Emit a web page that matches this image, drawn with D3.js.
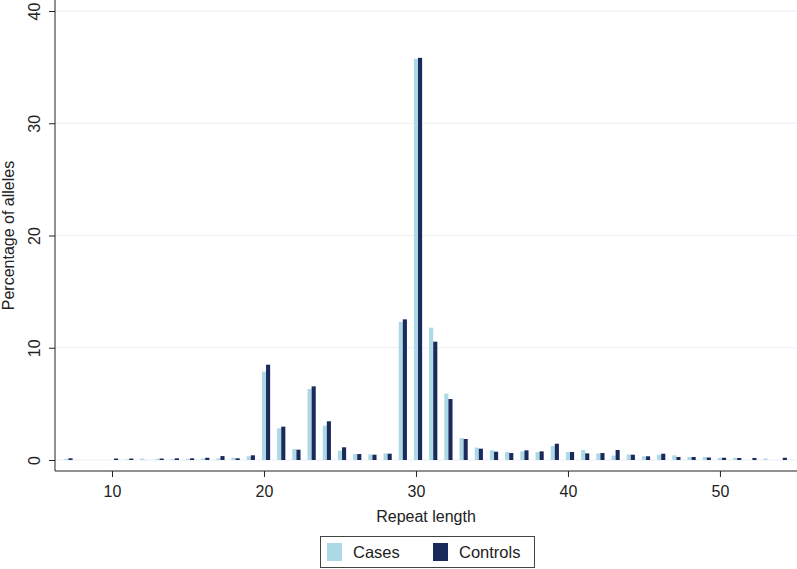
<!DOCTYPE html>
<html>
<head>
<meta charset="utf-8">
<script src="https://cdn.jsdelivr.net/npm/d3@7"></script>
<style>
  html, body { margin: 0; padding: 0; background: #fff; }
  svg { display: block; font-family: "Liberation Sans", Arial, Helvetica, sans-serif; }
</style>
</head>
<body>
<svg id="chart" width="797" height="569"></svg>
<script>
const repeatLengths = [7,8,9,10,11,12,13,14,15,16,17,18,19,20,21,22,23,24,25,26,27,28,29,30,31,32,33,34,35,36,37,38,39,40,41,42,43,44,45,46,47,48,49,50,51,52,53,54];
const casesPct = [0.1,0,0,0,0.05,0.13,0.1,0.08,0.1,0.13,0.15,0.2,0.33,7.87,2.82,0.98,6.33,3.06,0.83,0.53,0.5,0.59,12.3,35.74,11.79,5.91,1.96,1.1,0.87,0.71,0.77,0.71,1.25,0.71,0.89,0.59,0.39,0.5,0.33,0.47,0.42,0.27,0.27,0.2,0.2,0,0.13,0];
const controlsPct = [0.15,0,0,0.13,0.13,0,0.13,0.15,0.15,0.2,0.35,0.15,0.42,8.49,2.97,0.92,6.56,3.45,1.13,0.53,0.47,0.56,12.53,35.83,10.54,5.43,1.87,1.01,0.74,0.62,0.86,0.77,1.45,0.71,0.59,0.62,0.89,0.47,0.33,0.56,0.27,0.27,0.22,0.2,0.18,0.18,0,0.2];
const xTicks = [10,20,30,40,50];
const yTicks = [0,10,20,30,40];
const seriesNames = ["Cases","Controls"];
const seriesColors = ["#add8e6","#1a2a5a"];

const svg = d3.select("#chart");
const pLeft = 55, pRight = 797, pTop = 0, pBottom = 471;
const x = d3.scaleLinear().domain([6.25, 55.07]).range([pLeft, pRight]);
const y = d3.scaleLinear().domain([-0.98, 40.98]).range([pBottom, pTop]);
const barW = 0.27;

// grid lines
svg.append("g").selectAll("line").data(yTicks).join("line")
  .attr("x1", pLeft).attr("x2", pRight)
  .attr("y1", d => y(d)).attr("y2", d => y(d))
  .attr("stroke", "#e8f0f3").attr("stroke-width", 1.2);

// bars
const data = repeatLengths.map((r, i) => ({r, c: casesPct[i], k: controlsPct[i]}));
svg.append("g").selectAll("rect").data(data.filter(d => d.c > 0)).join("rect")
  .attr("x", d => x(d.r - barW/2)).attr("width", d => x(d.r + barW/2) - x(d.r - barW/2))
  .attr("y", d => y(d.c)).attr("height", d => y(0) - y(d.c))
  .attr("fill", seriesColors[0]);
svg.append("g").selectAll("rect").data(data.filter(d => d.k > 0)).join("rect")
  .attr("x", d => x(d.r + barW/2)).attr("width", d => x(d.r + 1.5*barW) - x(d.r + barW/2))
  .attr("y", d => y(d.k)).attr("height", d => y(0) - y(d.k))
  .attr("fill", seriesColors[1]);

// y axis
const yAxis = svg.append("g").attr("transform", `translate(${pLeft},0)`)
  .call(d3.axisLeft(y).tickValues(yTicks).tickSize(6).tickPadding(8).tickSizeOuter(0));
yAxis.select(".domain").attr("stroke", "#222").attr("d", `M0,${pTop}V${pBottom}`);
yAxis.selectAll(".tick line").attr("stroke", "#222");
yAxis.selectAll(".tick text")
  .attr("font-size", 16).attr("fill", "#222")
  .attr("text-anchor", "middle")
  .attr("x", null).attr("dy", null)
  .attr("transform", "translate(-15,0) rotate(-90)");

// x axis
const xAxis = svg.append("g").attr("transform", `translate(0,${pBottom})`)
  .call(d3.axisBottom(x).tickValues(xTicks).tickSize(6).tickPadding(9).tickSizeOuter(0));
xAxis.select(".domain").attr("stroke", "#222").attr("d", `M${pLeft},0H${pRight}`);
xAxis.selectAll(".tick line").attr("stroke", "#222");
xAxis.selectAll(".tick text").attr("font-size", 16).attr("fill", "#222");

// axis titles
svg.append("text").attr("x", (pLeft + pRight) / 2).attr("y", 522)
  .attr("text-anchor", "middle").attr("font-size", 16).attr("fill", "#222")
  .text("Repeat length");
svg.append("text").attr("transform", `translate(14,${(pTop + pBottom) / 2}) rotate(-90)`)
  .attr("text-anchor", "middle").attr("font-size", 16).attr("fill", "#222")
  .text("Percentage of alleles");

// legend
const lg = svg.append("g");
lg.append("rect").attr("x", 320.5).attr("y", 536.5).attr("width", 214).attr("height", 31)
  .attr("fill", "#fff").attr("stroke", "#444").attr("stroke-width", 1);
const legX = [327, 433];
const legTX = [353, 459];
seriesNames.forEach((n, i) => {
  lg.append("rect").attr("x", legX[i]).attr("y", 543).attr("width", 15).attr("height", 18)
    .attr("fill", seriesColors[i]);
  lg.append("text").attr("x", legTX[i]).attr("y", 558).attr("font-size", 16.5).attr("fill", "#222")
    .text(n);
});
</script>
</body>
</html>
